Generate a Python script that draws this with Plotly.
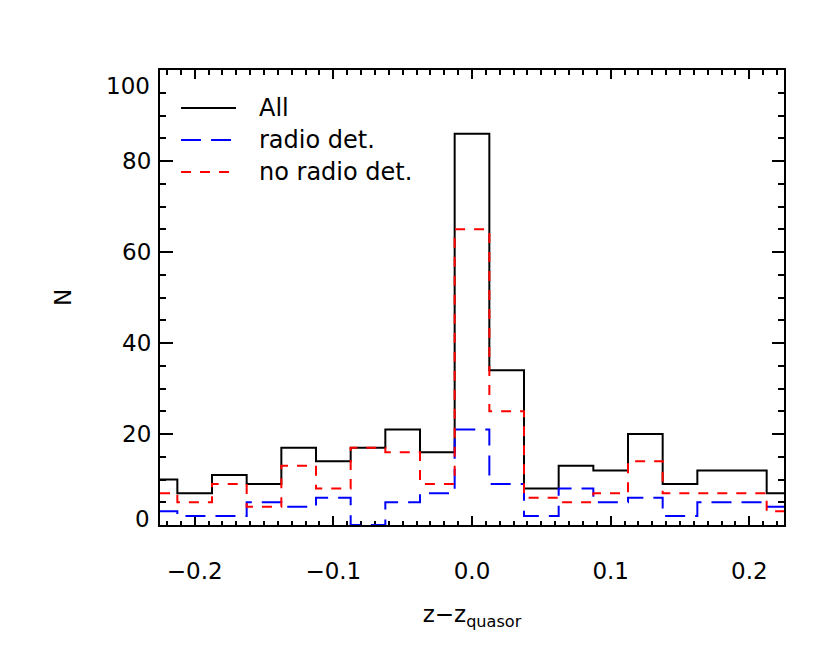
import plotly.graph_objects as go

# Bin centers (bin width 0.025)
bin_centers = [-0.225, -0.2, -0.175, -0.15, -0.125, -0.1, -0.075, -0.05, -0.025, 0.0,
               0.025, 0.05, 0.075, 0.1, 0.125, 0.15, 0.175, 0.2, 0.225]
n_all = [10, 7, 11, 9, 17, 14, 17, 21, 16, 86, 34, 8, 13, 12, 20, 9, 12, 12, 7]
n_radio = [3, 2, 2, 5, 4, 6, 0, 5, 7, 21, 9, 2, 8, 5, 6, 2, 5, 5, 4]
n_noradio = [7, 5, 9, 4, 13, 8, 17, 16, 9, 65, 25, 6, 5, 7, 14, 7, 7, 7, 3]

x_tickvals = [-0.2, -0.1, 0.0, 0.1, 0.2]
x_ticktext = ["\u22120.2", "\u22120.1", "0.0", "0.1", "0.2"]
y_tickvals = [20, 40, 60, 80]
y_ticktext = ["20", "40", "60", "80"]
y_end_labels = [(100, "100", -16), (0, "0", 6)]

series = [
    ("All", n_all, "black", "solid"),
    ("radio det.", n_radio, "blue", "20px,10px"),
    ("no radio det.", n_noradio, "red", "10px,9px"),
]

FONT = "DejaVu Sans"
TS = 23
fig = go.Figure()
for name, vals, color, dash in series:
    fig.add_trace(go.Scatter(
        x=bin_centers, y=vals, mode="lines", line_shape="hvh", name=name,
        line=dict(color=color, width=2, dash=dash), showlegend=False,
    ))

# manual legend (IDL style)
leg_y = [0.9165, 0.846, 0.7758]
for (name, vals, color, dash), ly in zip(series, leg_y):
    fig.add_shape(type="line", xref="paper", yref="paper", x0=0.0337, x1=0.1218,
                  y0=ly, y1=ly, line=dict(color=color, width=2, dash=dash))
    fig.add_annotation(xref="paper", yref="paper", x=0.1554, y=ly, text=name,
                       showarrow=False, xanchor="left", yanchor="middle",
                       font=dict(family=FONT, size=24, color="black"))

# end y labels (shifted inward like the original)
for val, txt, shift in y_end_labels:
    fig.add_annotation(xref="paper", yref="y", x=0, y=val, text=txt, showarrow=False,
                       xanchor="right", yanchor="middle", xshift=-8, yshift=shift,
                       font=dict(family=FONT, size=TS, color="black"))

fig.update_layout(
    width=830, height=664,
    margin=dict(l=152, r=54, t=62, b=147),
    paper_bgcolor="white", plot_bgcolor="white",
    font=dict(family=FONT, size=TS, color="black"),
    showlegend=False,
)
fig.update_xaxes(
    range=[-0.225, 0.225], tickvals=x_tickvals, ticktext=x_ticktext,
    ticks="inside", ticklen=9, tickwidth=2, tickcolor="black",
    showline=True, linewidth=2, linecolor="black", mirror="ticks",
    showgrid=False, zeroline=False, layer="below traces",
    minor=dict(dtick=0.01, tick0=0, ticks="inside", ticklen=4.5, tickwidth=1.5,
               tickcolor="black", showgrid=False),
    ticklabelstandoff=24,
    title=dict(text="z\u2212z<sub>quasor</sub>", font=dict(family=FONT, size=TS), standoff=23),
    tickfont=dict(family=FONT, size=TS),
)
fig.update_yaxes(
    range=[0, 100], tickvals=y_tickvals, ticktext=y_ticktext,
    ticks="inside", ticklen=12.5, tickwidth=2, tickcolor="black",
    showline=True, linewidth=2, linecolor="black", mirror="ticks",
    showgrid=False, zeroline=False, layer="below traces",
    minor=dict(dtick=5, tick0=0, ticks="inside", ticklen=6, tickwidth=1.5,
               tickcolor="black", showgrid=False),
    ticklabelstandoff=2,
    title=dict(text="N", font=dict(family=FONT, size=TS), standoff=44),
    tickfont=dict(family=FONT, size=TS),
)

fig.write_html("out.html")
